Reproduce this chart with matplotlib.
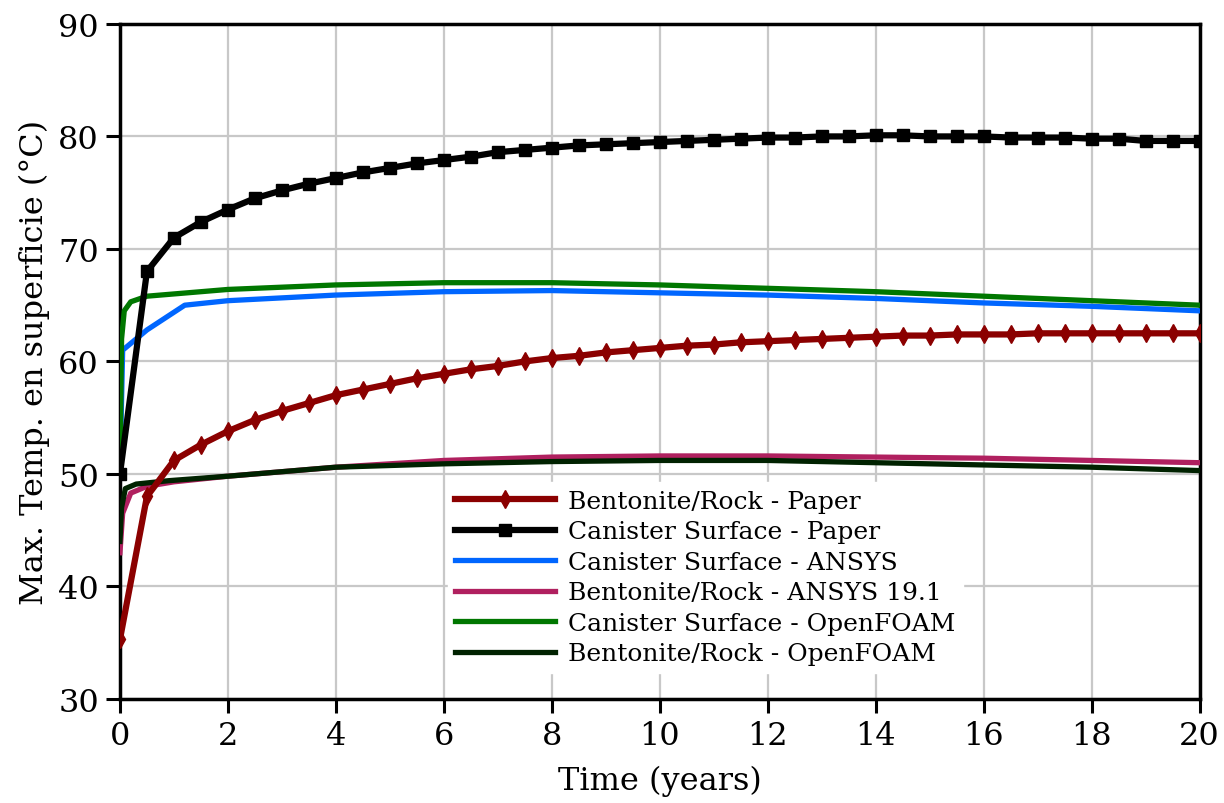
import numpy as np
import matplotlib
matplotlib.use("Agg")
from matplotlib import pyplot as plt

# Bentonite/Rock - Paper (every 0.5 year)
t_paper = np.arange(0, 20.01, 0.5)
bent_paper = [35.3, 48.0, 51.2, 52.6, 53.8, 54.8, 55.6, 56.3, 57.0, 57.5,
              58.0, 58.5, 58.9, 59.3, 59.6, 60.0, 60.3, 60.5, 60.8, 61.0,
              61.2, 61.4, 61.5, 61.7, 61.8, 61.9, 62.0, 62.1, 62.2, 62.3,
              62.3, 62.4, 62.4, 62.4, 62.5, 62.5, 62.5, 62.5, 62.5, 62.5, 62.5]
# Canister Surface - Paper
can_paper = [50.0, 68.0, 71.0, 72.4, 73.5, 74.5, 75.2, 75.8, 76.3, 76.8,
             77.2, 77.6, 77.9, 78.2, 78.6, 78.8, 79.0, 79.2, 79.3, 79.4,
             79.5, 79.6, 79.7, 79.8, 79.9, 79.9, 80.0, 80.0, 80.1, 80.1,
             80.0, 80.0, 80.0, 79.9, 79.9, 79.9, 79.8, 79.8, 79.6, 79.6, 79.6]

# Canister Surface - ANSYS
t_ansys_can = [0, 0.05, 0.5, 1.2, 2, 4, 6, 8, 10, 12, 14, 16, 18, 20]
can_ansys = [50.0, 61.0, 62.8, 65.0, 65.4, 65.9, 66.2, 66.3, 66.1, 65.9, 65.6, 65.2, 64.9, 64.5]

# Bentonite/Rock - ANSYS 19.1
t_ansys_bent = [0, 0.05, 0.2, 0.5, 1, 2, 4, 6, 8, 10, 12, 14, 16, 18, 20]
bent_ansys = [43.0, 46.5, 48.3, 48.9, 49.3, 49.8, 50.6, 51.2, 51.5, 51.6, 51.6, 51.5, 51.4, 51.2, 51.0]

# Canister Surface - OpenFOAM
t_of_can = [0, 0.03, 0.08, 0.2, 0.5, 1, 2, 4, 6, 8, 10, 12, 14, 16, 18, 20]
can_of = [50.0, 62.0, 64.5, 65.3, 65.8, 66.0, 66.4, 66.8, 67.0, 67.0, 66.8, 66.5, 66.2, 65.8, 65.4, 65.0]

# Bentonite/Rock - OpenFOAM
t_of_bent = [0, 0.03, 0.1, 0.3, 0.9, 2, 4, 6, 8, 10, 12, 14, 16, 18, 20]
bent_of = [44.0, 47.0, 48.7, 49.1, 49.4, 49.8, 50.6, 50.9, 51.1, 51.2, 51.2, 51.0, 50.8, 50.6, 50.3]

plt.rcParams['font.family'] = ['DejaVu Serif']

fig = plt.figure(figsize=(12.24, 8.04), dpi=100)
ax = fig.add_axes([0.098, 0.1294, 0.882, 0.8396])

ax.plot(t_paper, bent_paper, color='#8b0000', lw=4.5, marker='d', ms=9,
        label='Bentonite/Rock - Paper', zorder=4)
ax.plot(t_paper, can_paper, color='black', lw=4.5, marker='s', ms=8,
        label='Canister Surface - Paper', zorder=4)
ax.plot(t_ansys_can, can_ansys, color='#0066ff', lw=3.8,
        label='Canister Surface - ANSYS', zorder=3)
ax.plot(t_ansys_bent, bent_ansys, color='#b0205f', lw=3.8,
        label='Bentonite/Rock - ANSYS 19.1', zorder=3)
ax.plot(t_of_can, can_of, color='#007700', lw=3.8,
        label='Canister Surface - OpenFOAM', zorder=3)
ax.plot(t_of_bent, bent_of, color='#002200', lw=3.8,
        label='Bentonite/Rock - OpenFOAM', zorder=3)

ax.set_xlim(0, 20)
ax.set_ylim(30, 90)
ax.set_xticks(range(0, 21, 2))
ax.set_yticks(range(30, 91, 10))
ax.grid(True, color='#c8c8c8', lw=1.6)
ax.set_axisbelow(True)
for s in ax.spines.values():
    s.set_linewidth(2.5)
ax.tick_params(direction='out', length=10, width=2.2, labelsize=23, pad=5)
ax.set_xlabel('Time (years)', fontsize=23, labelpad=10)
ax.set_ylabel('Max. Temp. en superficie (°C)', fontsize=23, labelpad=6)

leg = ax.legend(loc='lower left', bbox_to_anchor=(0.292, 0.02), fontsize=18,
                frameon=True, framealpha=1, edgecolor='white', fancybox=False,
                handlelength=4.0, handletextpad=0.5, labelspacing=0.3,
                borderpad=0.3)

fig.savefig('out.png', dpi=100)
